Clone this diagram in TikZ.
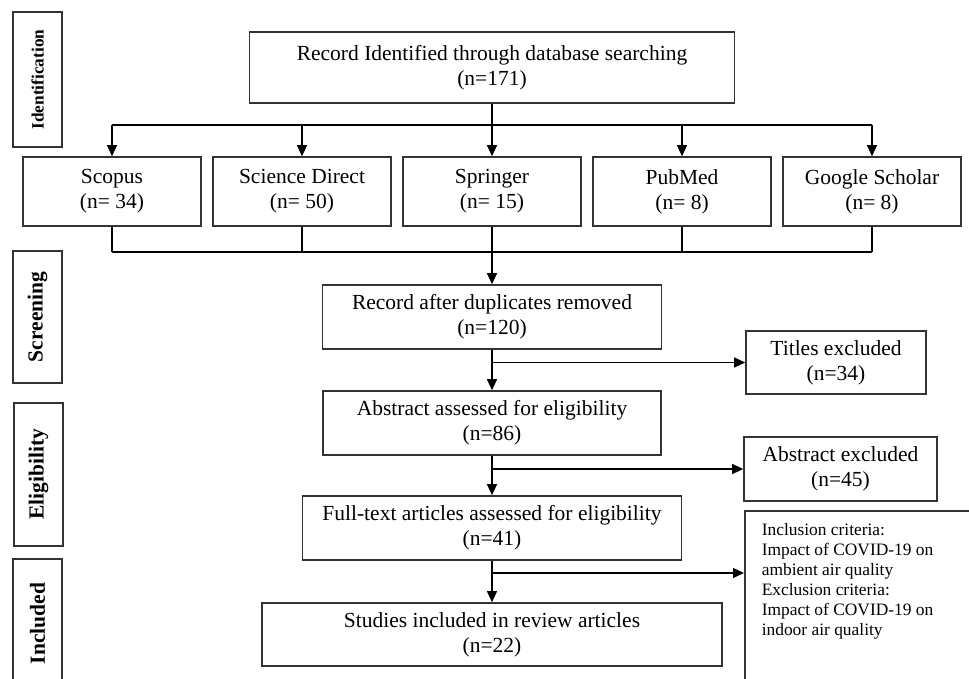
\documentclass[tikz,border=0pt]{standalone}
\usepackage{fontspec}
\setmainfont{Liberation Serif}
\usetikzlibrary{arrows.meta, positioning}

\begin{document}
\begin{tikzpicture}[
    x=1pt, y=-1pt,
    node distance=190pt,
    >={Triangle[length=11pt, width=10pt]},
    line width=1.1pt,
    stagebox/.style={rectangle, draw=black!80, line width=1.6pt, rotate=90, minimum height=49, inner sep=0pt, font=\bfseries\fontsize{21.5}{25}\selectfont},
    mainbox/.style={rectangle, draw=black!80, line width=1.6pt, align=center, minimum height=64, inner sep=2pt, font=\fontsize{21.5}{25}\selectfont},
    srcbox/.style={mainbox, minimum width=178, minimum height=69},
    notebox/.style={rectangle, draw=black!80, line width=1.6pt, inner xsep=17pt, inner ysep=13pt, font=\fontsize{17.4}{20}\selectfont}
]
\useasboundingbox (0,0) rectangle (969,679);
\clip (0,0) rectangle (969,679);

% stages
\node (ident) [stagebox, minimum width=135, font=\bfseries\fontsize{17.3}{20}\selectfont] at (37.5,79.5) {Identification};
\node (screen) [stagebox, minimum width=132] at (37.5,317) {Screening};
\node (elig) [stagebox, minimum width=143] at (38.5,474.5) {Eligibility};
\node (incl) [stagebox, minimum width=129] at (37.5,623.5) {Included};

% identification
\node (rec) [mainbox, minimum width=485, minimum height=71] at (492,67.5) {Record Identified through database searching\\(n=171)};
\node (scopus) [srcbox] at (112,191.5) {Scopus\\(n= 34)};
\node (scidir) [srcbox, right of=scopus] {Science Direct\\(n= 50)};
\node (springer) [srcbox, right of=scidir] {Springer\\(n= 15)};
\node (pubmed) [srcbox, right of=springer] {PubMed\\(n= 8)};
\node (scholar) [srcbox, right of=pubmed] {Google Scholar\\(n= 8)};

\coordinate (split) at (0,125);
\coordinate (merge) at (0,252);

\draw (rec.south) -- (rec.south |- split);
\draw (scopus.north |- split) -- (scholar.north |- split);
\foreach \src in {scopus, scidir, springer, pubmed, scholar}
    \draw[->] (\src.north |- split) -- (\src.north);
\foreach \src in {scopus, scidir, pubmed, scholar}
    \draw (\src.south) -- (\src.south |- merge);
\draw (scopus.south |- merge) -- (scholar.south |- merge);

% screening
\node (dup) [mainbox, minimum width=339] at (492,317) {Record after duplicates removed\\(n=120)};
\node (titles) [mainbox, minimum width=180, minimum height=63] at (836,362.5) {Titles excluded\\(n=34)};

% eligibility
\node (abs) [mainbox, minimum width=338] at (492,423) {Abstract assessed for eligibility\\(n=86)};
\node (absout) [mainbox, minimum width=193] at (840.5,469) {Abstract excluded\\(n=45)};
\node (full) [mainbox, minimum width=379] at (492,528) {Full-text articles assessed for eligibility\\(n=41)};
\node (criteria) [notebox, anchor=north west] at (744,510) {\parbox[t][190pt][t]{200pt}{Inclusion criteria:\\Impact of COVID-19 on\\ambient air quality\\Exclusion criteria:\\Impact of COVID-19 on\\indoor air quality}};

% included
\node (studies) [mainbox, minimum width=460, minimum height=63] at (492,634.5) {Studies included in review articles\\(n=22)};

\coordinate (cut) at (0,573);

\draw[->] (springer.south) -- (dup.north);
\draw[->] (dup.south) -- (abs.north);
\draw[->] (abs.south) -- (full.north);
\draw[->] (full.south) -- (studies.north);
\draw[->] (dup.south |- titles.west) -- (titles.west);
\draw[->] (abs.south |- absout.west) -- (absout.west);
\draw[->] (full.south |- cut) -- (criteria.west |- cut);

\end{tikzpicture}
\end{document}
